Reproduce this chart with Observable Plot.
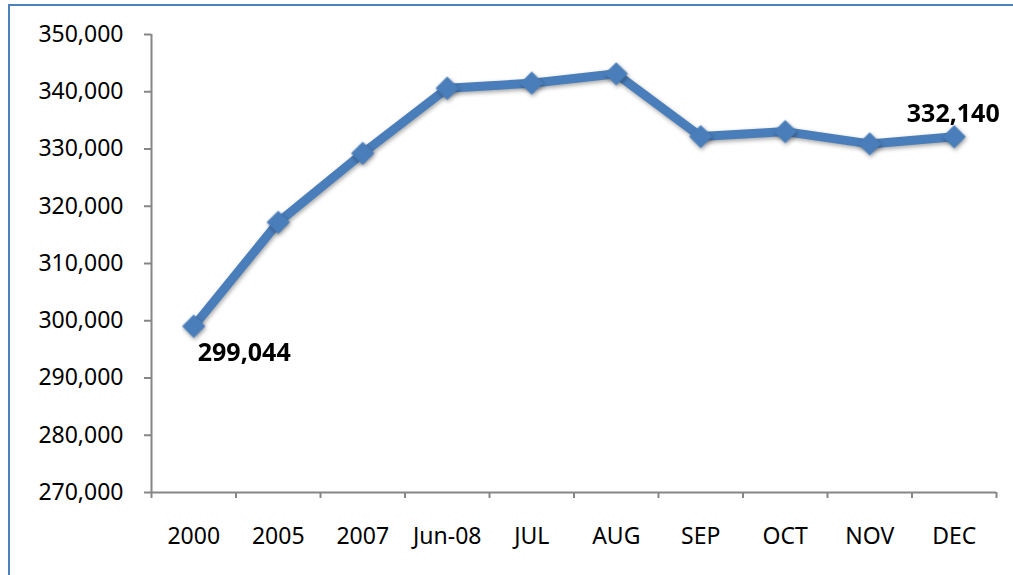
<!DOCTYPE html>
<html>
<head>
<meta charset="utf-8">
<script src="https://cdn.jsdelivr.net/npm/d3@7"></script>
<script src="https://cdn.jsdelivr.net/npm/@observablehq/plot@0.6"></script>
<style>
  html, body { margin: 0; padding: 0; background: #fff; overflow: hidden; }
  #wrap { position: relative; width: 1013px; height: 575px; overflow: hidden; }
  #border { position: absolute; left: 8px; top: 4px; width: 1100px; height: 700px; border: 2px solid #4f81bd; box-sizing: border-box; pointer-events: none; }
  #chart { position: absolute; left: 0; top: 0; }
  g[aria-label="line"], g[aria-label="dot"] { filter: drop-shadow(1px 2px 2px rgba(0,0,0,0.35)); }
</style>
</head>
<body>
<div id="wrap"><div id="chart"></div><div id="border"></div></div>
<script>
const categories = ["2000", "2005", "2007", "Jun-08", "JUL", "AUG", "SEP", "OCT", "NOV", "DEC"];
const values = [299044, 317190, 329250, 340610, 341490, 343130, 332170, 333040, 330890, 332140];
const yTicks = [270000, 280000, 290000, 300000, 310000, 320000, 330000, 340000, 350000];
const labeledIndices = [0, 9];

const data = categories.map((c, i) => ({ i, c, v: values[i] }));
const boundaries = d3.range(categories.length + 1).map(k => k - 0.5);
const fmt = d3.format(",");
const blue = "#4a7ebb";
const gray = "#868686";

const chart = Plot.plot({
  width: 1013,
  height: 575,
  marginLeft: 151,
  marginRight: 17,
  marginTop: 34,
  marginBottom: 83,
  x: { domain: [-0.5, categories.length - 0.5], axis: null },
  y: { domain: [yTicks[0], yTicks[yTicks.length - 1]], axis: null },
  style: { fontFamily: "'Noto Sans', sans-serif", fontSize: "23px", color: "#000", background: "transparent", overflow: "visible" },
  marks: [
    Plot.ruleX([-0.5], { stroke: gray, strokeWidth: 2 }),
    Plot.ruleY([yTicks[0]], { stroke: gray, strokeWidth: 2 }),
    Plot.axisY(yTicks, { label: null, tickSize: 7, tickPadding: 21, tickFormat: fmt, stroke: gray, strokeWidth: 2, fill: "#000", fontSize: 23 }),
    Plot.axisX(boundaries, { label: null, tickSize: 6, tickFormat: () => "", stroke: gray, strokeWidth: 2 }),
    Plot.axisX(data.map(d => d.i), { label: null, tickSize: 0, tickPadding: 35, tickFormat: i => categories[i], fill: "#000", fontSize: 23 }),
    Plot.line(data, { x: "i", y: "v", stroke: blue, strokeWidth: 9, strokeLinejoin: "round" }),
    Plot.dot(data, { x: "i", y: "v", symbol: "diamond2", r: 10.5, fill: blue }),
    Plot.text(data.filter(d => d.i === labeledIndices[0]), { x: "i", y: "v", text: d => fmt(d.v), textAnchor: "start", dx: 4, dy: 27, fontWeight: "bold", fontSize: 25, fill: "#000" }),
    Plot.text(data.filter(d => d.i === labeledIndices[1]), { x: "i", y: "v", text: d => fmt(d.v), textAnchor: "middle", dx: -1, dy: -23, fontWeight: "bold", fontSize: 25, fill: "#000" })
  ]
});
document.getElementById("chart").appendChild(chart);
</script>
</body>
</html>
